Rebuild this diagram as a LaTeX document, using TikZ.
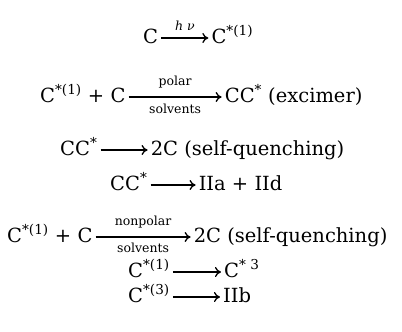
\documentclass[tikz,border=0pt]{standalone}
\usepackage{fontspec}
\setmainfont{DejaVu Serif}
\usetikzlibrary{positioning,arrows.meta}

\newcommand{\exc}[1]{\textsuperscript{#1}}

\begin{document}
\begin{tikzpicture}[
    x=1pt, y=-1pt,
    species/.style={inner xsep=3pt, inner ysep=0pt, text height=15pt, text depth=5pt, anchor=base west, font=\fontsize{19.5}{23}\selectfont},
    cond/.style={inner sep=1pt, font=\fontsize{12.5}{14}\selectfont},
    rxn/.style={-{To[length=6pt,width=10pt]}, line width=1.3pt}
]
\useasboundingbox (0,0) rectangle (402,332);

\node[species] (c1a) at (140,43) {C};
\node[species, right=47pt of c1a] (c1b) {C\exc{*(1)}};

\node[species] (c2a) at (37,102) {C\exc{*(1)} + C};
\node[species, right=93pt of c2a] (c2b) {CC\exc{*} (excimer)};

\node[species] (c3a) at (57,155) {CC\exc{*}};
\node[species, right=47pt of c3a] (c3b) {2C (self-quenching)};

\node[species] (c4a) at (107,190) {CC\exc{*}};
\node[species, right=45pt of c4a] (c4b) {IIa + IId};

\node[species] (c5a) at (4,242) {C\exc{*(1)} + C};
\node[species, right=95pt of c5a] (c5b) {2C (self-quenching)};

\node[species] (c6a) at (125,277) {C\exc{*(1)}};
\node[species, right=48pt of c6a] (c6b) {C\exc{* 3}};

\node[species] (c7a) at (125,302) {C\exc{*(3)}};
\node[species, right=47pt of c7a] (c7b) {IIb};

\draw[rxn] (c1a) -- node[cond, above=6pt] {\itshape h ν} (c1b);
\draw[rxn] (c2a) -- node[cond, above=7pt] {polar} node[cond, below=5pt] {solvents} (c2b);
\draw[rxn] (c3a) -- (c3b);
\draw[rxn] (c4a) -- (c4b);
\draw[rxn] (c5a) -- node[cond, above=7pt] {nonpolar} node[cond, below=4pt] {solvents} (c5b);
\draw[rxn] (c6a) -- (c6b);
\draw[rxn] (c7a) -- (c7b);

\end{tikzpicture}
\end{document}
